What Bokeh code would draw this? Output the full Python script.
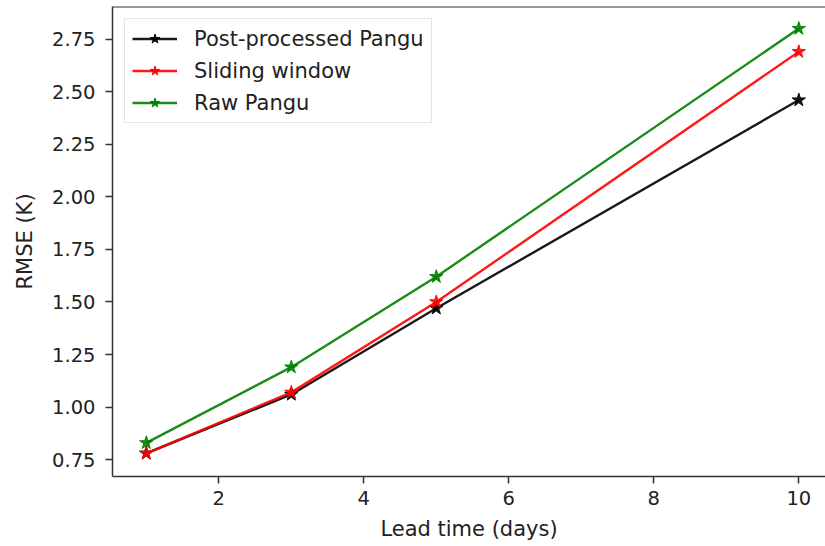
from bokeh.plotting import figure
from bokeh.models import Range1d, FixedTicker, Legend, LegendItem, NumeralTickFormatter, Span
from bokeh.embed import file_html
from bokeh.resources import INLINE

# ---- data ----
lead_days = [1, 3, 5, 10]
post_processed_pangu = [0.78, 1.06, 1.47, 2.46]
sliding_window = [0.78, 1.07, 1.50, 2.69]
raw_pangu = [0.83, 1.19, 1.62, 2.80]
series_names = ["Post-processed Pangu", "Sliding window", "Raw Pangu"]
x_tick_values = [2, 4, 6, 8, 10]
y_tick_values = [0.75, 1.00, 1.25, 1.50, 1.75, 2.00, 2.25, 2.50, 2.75]

FONT = "DejaVu Sans"
Y_TOP = 2.905

p = figure(width=825, height=546, output_backend="svg", toolbar_location=None,
           x_range=Range1d(0.534, 10.368), y_range=Range1d(0.670, Y_TOP),
           min_border_left=112, min_border_right=0, min_border_top=6, min_border_bottom=70)
p.background_fill_color = "white"
p.border_fill_color = "white"
p.grid.visible = False
p.outline_line_color = None

# top spine only (no right spine visible in the reference)
p.add_layout(Span(location=Y_TOP, dimension="width", line_color="#333333", line_width=2))

p.xaxis.ticker = FixedTicker(ticks=x_tick_values)
p.yaxis.ticker = FixedTicker(ticks=y_tick_values)
p.yaxis.formatter = NumeralTickFormatter(format="0.00")
p.xaxis.axis_label = "Lead time (days)"
p.yaxis.axis_label = "RMSE (K)"
for ax in (p.xaxis[0], p.yaxis[0]):
    ax.axis_line_color = "#333333"
    ax.axis_line_width = 1.5
    ax.major_tick_line_color = "#333333"
    ax.major_tick_line_width = 1.5
    ax.major_tick_out = 7
    ax.major_tick_in = 0
    ax.minor_tick_line_color = None
    ax.major_label_text_font = FONT
    ax.major_label_text_font_size = "19.5px"
    ax.major_label_text_color = "#222222"
    ax.axis_label_text_font = FONT
    ax.axis_label_text_font_size = "21px"
    ax.axis_label_text_font_style = "normal"
    ax.axis_label_text_color = "#222222"
p.xaxis[0].major_label_standoff = 7
p.yaxis[0].major_label_standoff = 10
p.xaxis[0].axis_label_standoff = 9
p.yaxis[0].axis_label_standoff = 12

colors = ["black", "red", "green"]
items = []
for name, vals, c in zip(series_names, [post_processed_pangu, sliding_window, raw_pangu], colors):
    l = p.line(lead_days, vals, line_color=c, line_width=2.4, alpha=0.9)
    s = p.scatter(lead_days, vals, marker="star", size=14, fill_color=c, line_color=c, alpha=0.9)
    items.append(LegendItem(label=name, renderers=[l, s]))

legend = Legend(items=items, location="top_left")
legend.margin = 12
legend.padding = 7
legend.spacing = 7
legend.label_height = 25
legend.glyph_height = 25
legend.glyph_width = 45
legend.label_standoff = 17
legend.label_text_font = FONT
legend.label_text_font_size = "21px"
legend.label_text_color = "#222222"
legend.border_line_color = "#cccccc"
legend.border_line_width = 1
legend.background_fill_alpha = 0.8
p.add_layout(legend)

open("out.html", "w").write(file_html(p, INLINE))
